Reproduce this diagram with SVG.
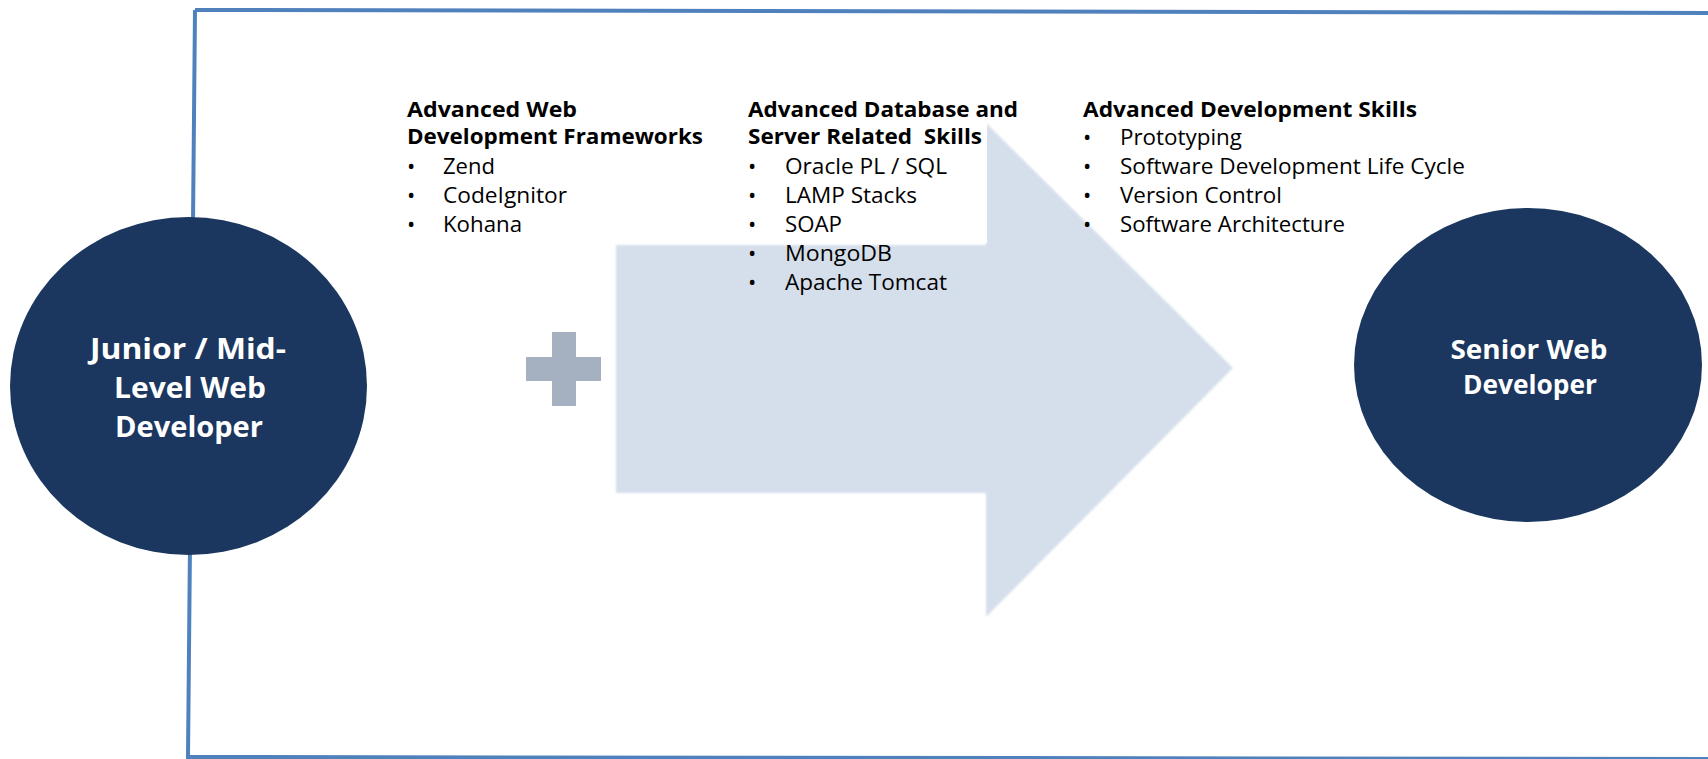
<svg xmlns="http://www.w3.org/2000/svg" width="1708" height="759" viewBox="0 0 1708 759">
<defs>
<style>
.head{font-family:"Open Sans","Noto Sans","Liberation Sans",sans-serif;font-weight:bold;font-size:22px;fill:#000}
.item{font-family:"Open Sans","Noto Sans","Liberation Sans",sans-serif;font-size:22px;fill:#000}
.node{fill:#1b375f}
.nlabel{font-family:"Open Sans","Noto Sans","Liberation Sans",sans-serif;font-weight:bold;fill:#fff;text-anchor:middle}
</style>
<filter id="soft" x="-5%" y="-5%" width="110%" height="110%"><feGaussianBlur stdDeviation="1.2"/></filter>
</defs>
<rect width="1708" height="759" fill="#fff"/>
<g id="frame">
<path d="M195,10 L1720,13 M195,10 L188,757 L1720,759" fill="none" stroke="#4f81bd" stroke-width="4"/>
</g>
<g id="arrow">
<polygon points="616,245 986,245 986,123 1233,368 986,617 986,493 616,493" fill="#d5dfeb" filter="url(#soft)"/>
</g>
<g id="plus">
<rect x="552" y="332" width="24" height="74" fill="#a5b1c1"/>
<rect x="526" y="357" width="75" height="24" fill="#a5b1c1"/>
</g>
<g id="col1">
<text class="head" x="407" y="117" textLength="170" lengthAdjust="spacingAndGlyphs">Advanced Web</text>
<text class="head" x="407" y="144" textLength="296" lengthAdjust="spacingAndGlyphs">Development Frameworks</text>
<text class="item" x="407" y="174">•</text><text class="item" x="443" y="174">Zend</text>
<text class="item" x="407" y="203">•</text><text class="item" x="443" y="203" textLength="124" lengthAdjust="spacingAndGlyphs">CodeIgnitor</text>
<text class="item" x="407" y="232">•</text><text class="item" x="443" y="232" textLength="79" lengthAdjust="spacingAndGlyphs">Kohana</text>
</g>
<g id="col2">
<rect x="740" y="95" width="247" height="148" fill="#fff"/>
<text class="head" x="748" y="117" textLength="270" lengthAdjust="spacingAndGlyphs">Advanced Database and</text>
<text class="head" x="748" y="144" xml:space="preserve" textLength="234" lengthAdjust="spacingAndGlyphs">Server Related  Skills</text>
<text class="item" x="748" y="174">•</text><text class="item" x="785" y="174" textLength="162" lengthAdjust="spacingAndGlyphs">Oracle PL / SQL</text>
<text class="item" x="748" y="203">•</text><text class="item" x="785" y="203" textLength="132" lengthAdjust="spacingAndGlyphs">LAMP Stacks</text>
<text class="item" x="748" y="232">•</text><text class="item" x="785" y="232" textLength="57" lengthAdjust="spacingAndGlyphs">SOAP</text>
<text class="item" x="748" y="261">•</text><text class="item" x="785" y="261" textLength="107" lengthAdjust="spacingAndGlyphs">MongoDB</text>
<text class="item" x="748" y="290">•</text><text class="item" x="785" y="290" textLength="162" lengthAdjust="spacingAndGlyphs">Apache Tomcat</text>
</g>
<g id="col3">
<text class="head" x="1083" y="117" textLength="334" lengthAdjust="spacingAndGlyphs">Advanced Development Skills</text>
<text class="item" x="1083" y="145">•</text><text class="item" x="1120" y="145" textLength="122" lengthAdjust="spacingAndGlyphs">Prototyping</text>
<text class="item" x="1083" y="174">•</text><text class="item" x="1120" y="174" textLength="345" lengthAdjust="spacingAndGlyphs">Software Development Life Cycle</text>
<text class="item" x="1083" y="203">•</text><text class="item" x="1120" y="203" textLength="162" lengthAdjust="spacingAndGlyphs">Version Control</text>
<text class="item" x="1083" y="232">•</text><text class="item" x="1120" y="232" textLength="225" lengthAdjust="spacingAndGlyphs">Software Architecture</text>
</g>
<g id="junior">
<ellipse class="node" cx="188.5" cy="386" rx="178.5" ry="169"/>
<text class="nlabel" x="188" y="359" font-size="29" textLength="196" lengthAdjust="spacingAndGlyphs">Junior / Mid-</text>
<text class="nlabel" x="190" y="398" font-size="29" textLength="152" lengthAdjust="spacingAndGlyphs">Level Web</text>
<text class="nlabel" x="189" y="437" font-size="29" textLength="148" lengthAdjust="spacingAndGlyphs">Developer</text>
</g>
<g id="senior">
<ellipse class="node" cx="1528" cy="365" rx="174" ry="157"/>
<text class="nlabel" x="1529" y="359" font-size="27" textLength="157" lengthAdjust="spacingAndGlyphs">Senior Web</text>
<text class="nlabel" x="1530" y="394" font-size="27" textLength="134" lengthAdjust="spacingAndGlyphs">Developer</text>
</g>
<g id="connectors"></g>
</svg>
